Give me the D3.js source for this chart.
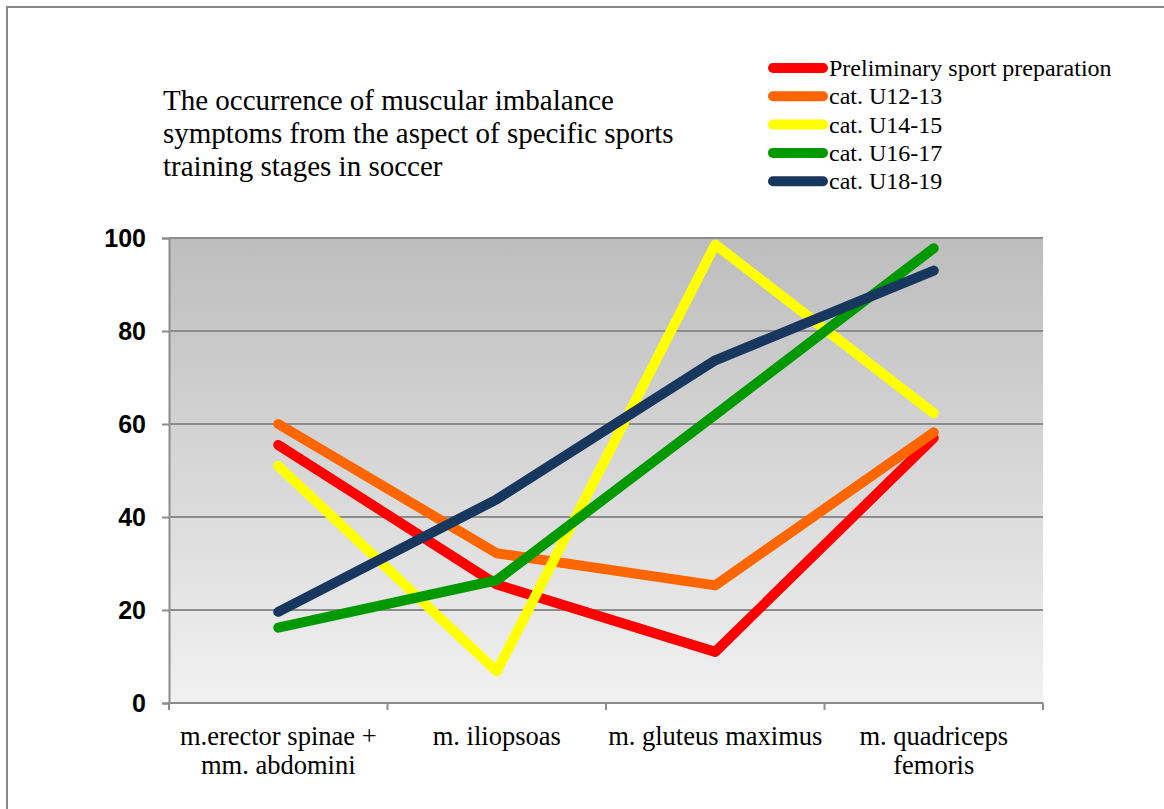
<!DOCTYPE html>
<html>
<head>
<meta charset="utf-8">
<script src="https://cdn.jsdelivr.net/npm/d3@7"></script>
<style>
  body { margin: 0; background: #fff; }
  svg { display: block; }
</style>
</head>
<body>
<div id="chart"></div>
<script>
// values
const categories = [
  ["m.erector spinae +", "mm. abdomini"],
  ["m. iliopsoas"],
  ["m. gluteus maximus"],
  ["m. quadriceps", "femoris"]
];
const seriesNames = [
  "Preliminary sport preparation",
  "cat. U12-13",
  "cat. U14-15",
  "cat. U16-17",
  "cat. U18-19"
];
const seriesColors = ["#ff0000", "#ff6600", "#ffff00", "#009900", "#17375e"];
const prelim = [55.5, 25.5, 11, 57];
const u1213 = [60, 32.2, 25.3, 58.2];
const u1415 = [51, 6.8, 98.6, 62.3];
const u1617 = [16.2, 26.4, 62, 97.8];
const u1819 = [19.6, 43.8, 73.7, 93];
const yTicks = [0, 20, 40, 60, 80, 100];
const title = [
  "The occurrence of muscular imbalance",
  "symptoms from the aspect of specific sports",
  "training stages in soccer"
];

const serif = '"Liberation Serif", "Times New Roman", serif';
const sans = '"Liberation Sans", Arial, sans-serif';

const width = 1164, height = 809;
const margin = {top: 238, right: 121, bottom: 106, left: 169};

const series = [prelim, u1213, u1415, u1617, u1819].map((vals, i) => ({
  name: seriesNames[i], color: seriesColors[i], values: vals
}));

const svg = d3.select("#chart").append("svg")
  .attr("width", width)
  .attr("height", height);

// outer frame (runs off the right and bottom of the picture)
svg.append("rect")
  .attr("x", 7).attr("y", 7)
  .attr("width", width + 20).attr("height", height + 20)
  .attr("fill", "#fff")
  .attr("stroke", "#888")
  .attr("stroke-width", 2);

const x = d3.scaleBand()
  .domain(d3.range(categories.length))
  .range([margin.left, width - margin.right]);

const y = d3.scaleLinear()
  .domain([0, 100])
  .range([height - margin.bottom, margin.top]);

// plot area gradient
const grad = svg.append("defs").append("linearGradient")
  .attr("id", "bg").attr("x1", 0).attr("y1", 0).attr("x2", 0).attr("y2", 1);
grad.append("stop").attr("offset", "0%").attr("stop-color", "#bdbdbd");
grad.append("stop").attr("offset", "100%").attr("stop-color", "#f1f1f1");

svg.append("rect")
  .attr("x", margin.left).attr("y", y(100))
  .attr("width", width - margin.right - margin.left)
  .attr("height", y(0) - y(100))
  .attr("fill", "url(#bg)");

// gridlines
svg.append("g")
  .selectAll("line")
  .data(yTicks.filter(d => d > 0))
  .join("line")
    .attr("x1", margin.left).attr("x2", width - margin.right)
    .attr("y1", d => y(d)).attr("y2", d => y(d))
    .attr("stroke", "#8c8c8c")
    .attr("stroke-width", 2);

// y axis
const yAxis = svg.append("g")
  .attr("transform", `translate(${margin.left},0)`)
  .call(d3.axisLeft(y).tickValues(yTicks).tickSize(7).tickPadding(16));
yAxis.select(".domain").attr("stroke", "#8c8c8c").attr("stroke-width", 2);
yAxis.selectAll(".tick line").attr("stroke", "#8c8c8c").attr("stroke-width", 2);
yAxis.selectAll("text")
  .style("font-family", sans)
  .style("font-weight", "bold")
  .style("font-size", "25px")
  .attr("fill", "#000");

// x axis: ticks on the band edges
const xEdges = d3.range(categories.length + 1).map(i =>
  i < categories.length ? x(i) : x(i - 1) + x.bandwidth());
const xg = svg.append("g");
xg.append("line")
  .attr("x1", margin.left).attr("x2", width - margin.right)
  .attr("y1", y(0)).attr("y2", y(0))
  .attr("stroke", "#8c8c8c").attr("stroke-width", 2);
xg.selectAll("line.tk")
  .data(xEdges)
  .join("line")
    .attr("class", "tk")
    .attr("x1", d => d).attr("x2", d => d)
    .attr("y1", y(0)).attr("y2", y(0) + 7)
    .attr("stroke", "#8c8c8c").attr("stroke-width", 2);

xg.selectAll("text.cat")
  .data(categories)
  .join("text")
    .attr("class", "cat")
    .attr("x", (d, i) => x(i) + x.bandwidth() / 2)
    .attr("y", y(0) + 42)
    .attr("text-anchor", "middle")
    .style("font-family", serif)
    .style("font-size", "26.5px")
    .attr("fill", "#000")
    .selectAll("tspan")
    .data(d => d)
    .join("tspan")
      .attr("x", function() { return d3.select(this.parentNode).attr("x"); })
      .attr("dy", (d, i) => i === 0 ? 0 : 28.5)
      .text(d => d);

// lines
const line = d3.line()
  .x((d, i) => x(i) + x.bandwidth() / 2)
  .y(d => y(d));

svg.append("g")
  .selectAll("path")
  .data(series)
  .join("path")
    .attr("d", d => line(d.values))
    .attr("fill", "none")
    .attr("stroke", d => d.color)
    .attr("stroke-width", 10)
    .attr("stroke-linejoin", "round")
    .attr("stroke-linecap", "round");

// title
svg.append("text")
  .attr("x", 163).attr("y", 110)
  .style("font-family", serif)
  .style("font-size", "29px")
  .attr("fill", "#000")
  .selectAll("tspan")
  .data(title)
  .join("tspan")
    .attr("x", 163)
    .attr("dy", (d, i) => i === 0 ? 0 : 33)
    .text(d => d);

// legend
const legend = svg.append("g")
  .attr("transform", "translate(773,68)");
const item = legend.selectAll("g")
  .data(series)
  .join("g")
    .attr("transform", (d, i) => `translate(0,${i * 28.3})`);
item.append("line")
  .attr("x1", 0).attr("x2", 50)
  .attr("stroke", d => d.color)
  .attr("stroke-width", 10)
  .attr("stroke-linecap", "round");
item.append("text")
  .attr("x", 56).attr("y", 8)
  .style("font-family", serif)
  .style("font-size", "24px")
  .attr("fill", "#000")
  .text(d => d.name);
</script>
</body>
</html>
